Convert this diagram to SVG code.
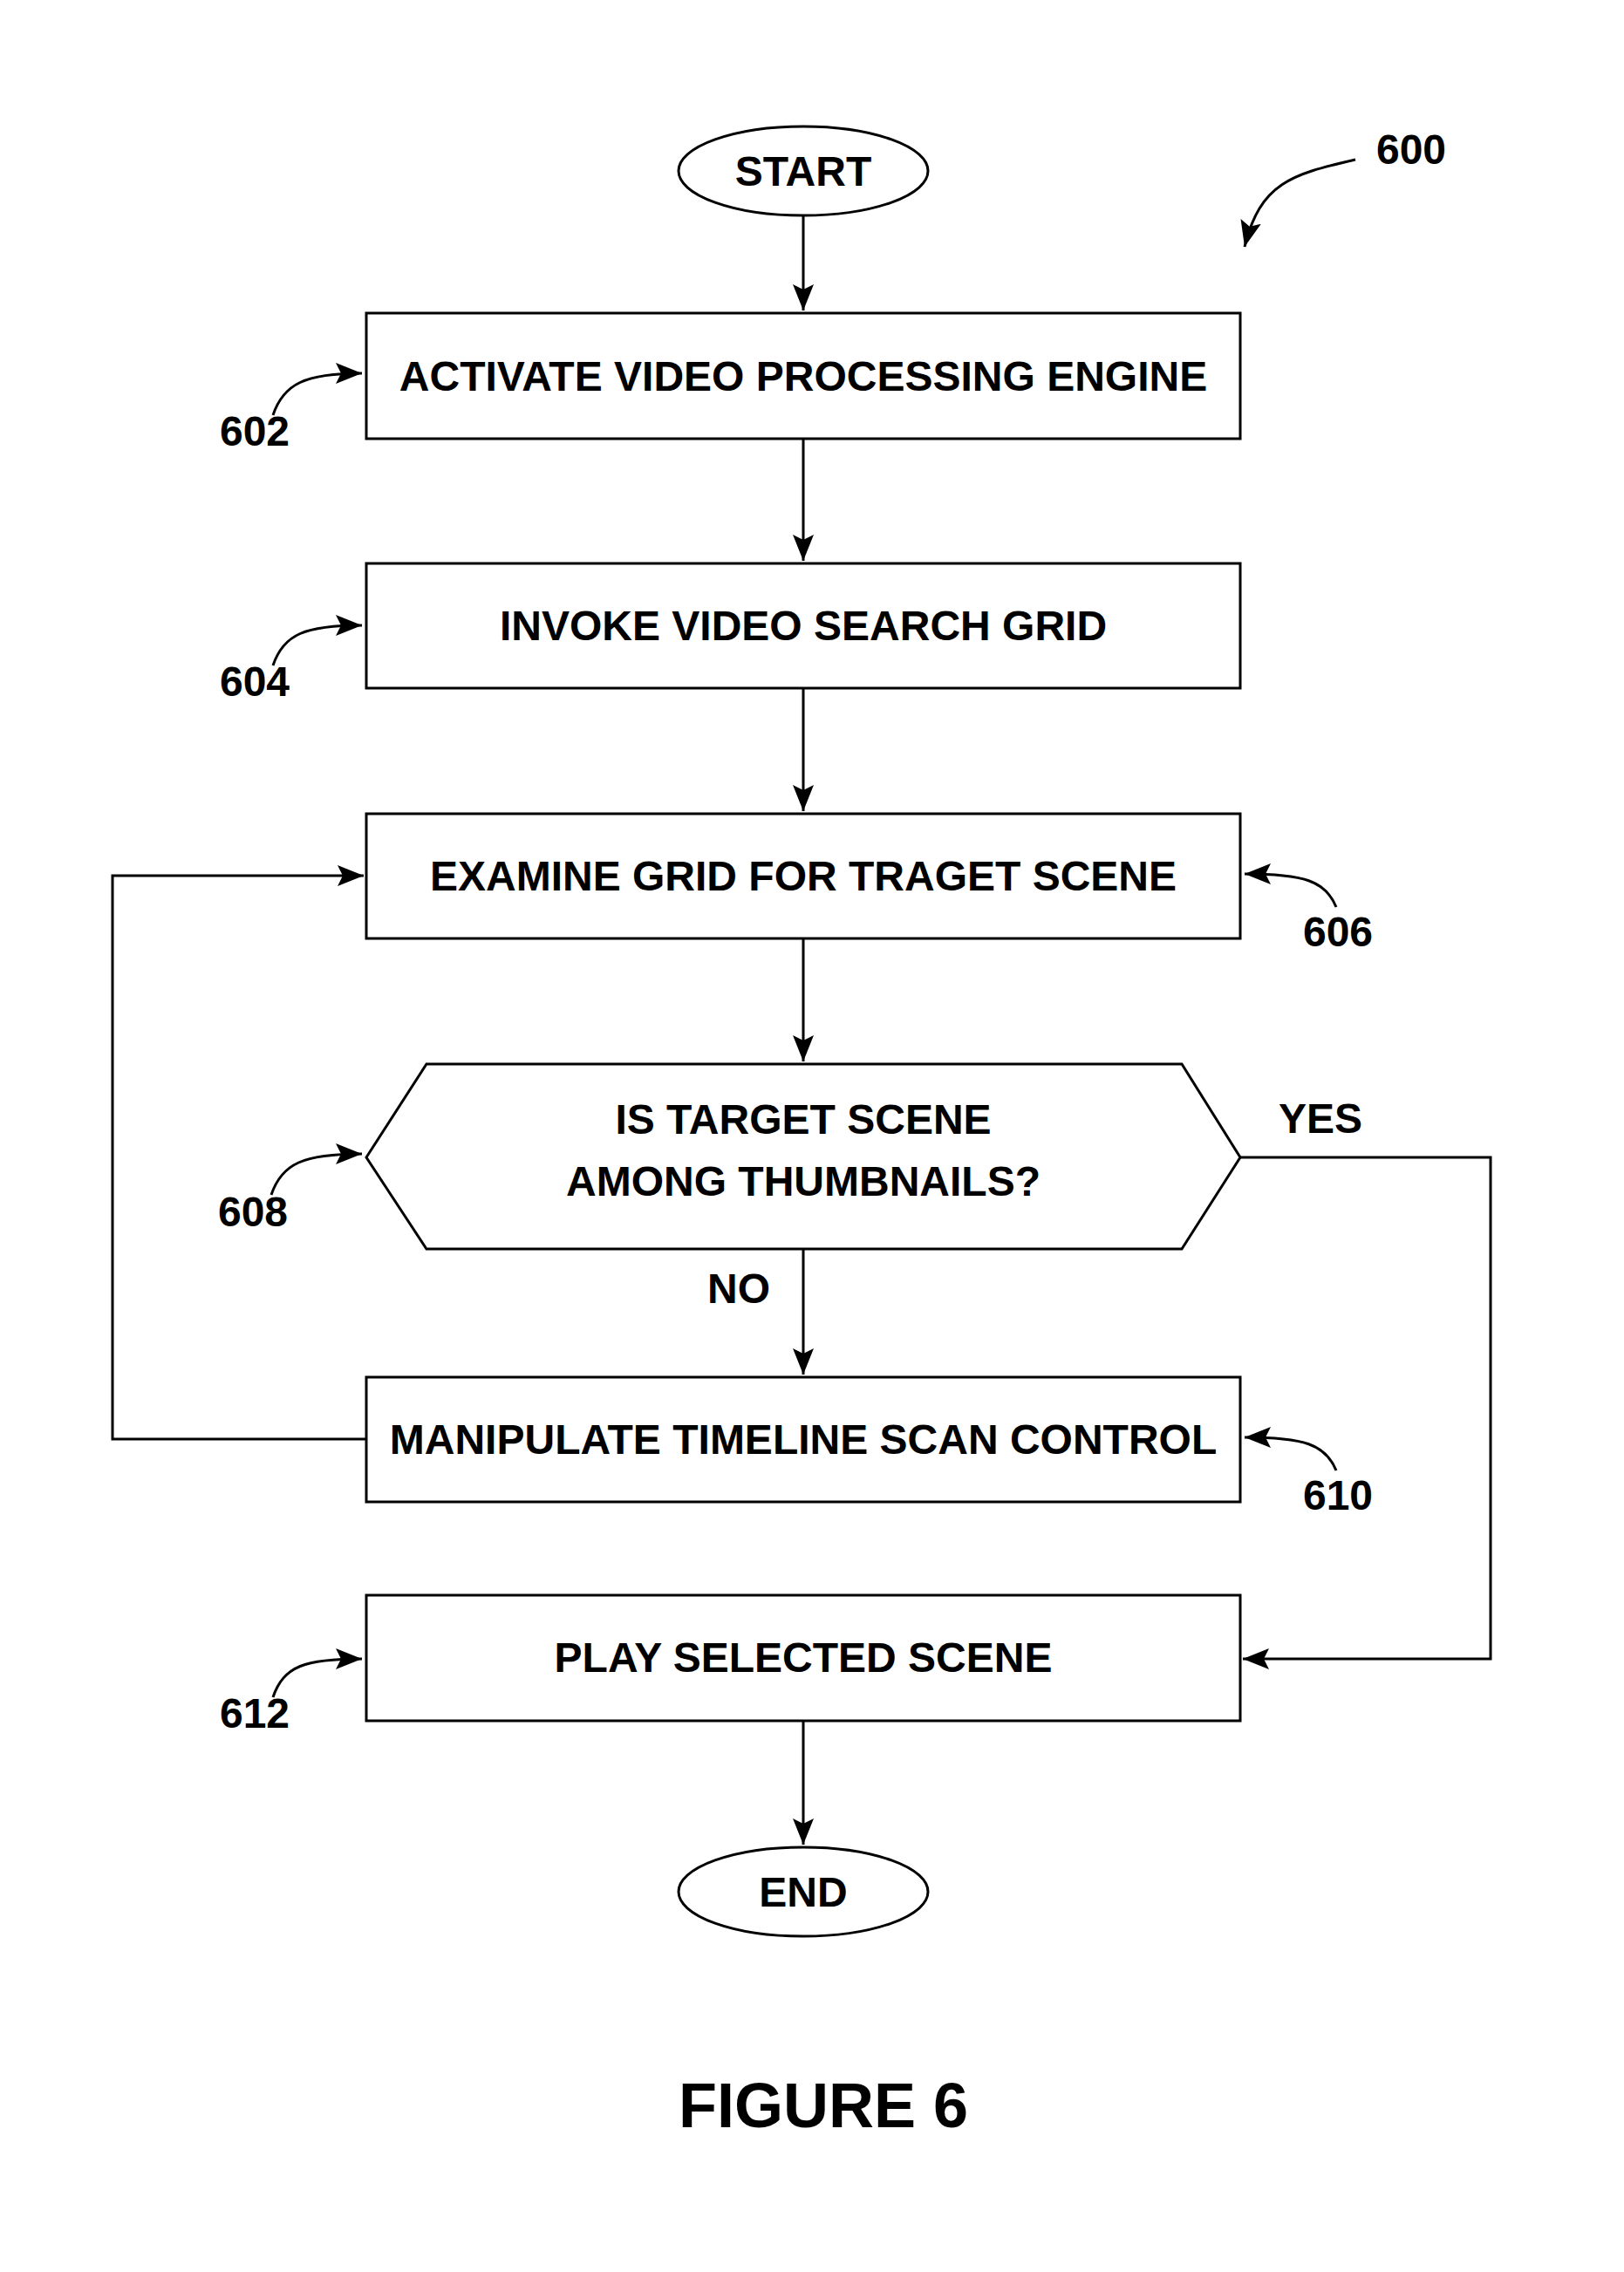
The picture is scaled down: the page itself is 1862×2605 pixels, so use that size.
<svg xmlns="http://www.w3.org/2000/svg" width="1862" height="2605" viewBox="0 0 1862 2605">
<style>
.s{fill:#fff;stroke:#000;stroke-width:3}
.t{font-family:"Liberation Sans",Arial,sans-serif;font-weight:bold;font-size:48px;text-anchor:middle;dominant-baseline:central}
.l{fill:none;stroke:#000;stroke-width:3}
</style>
<defs>
<marker id="b" viewBox="0 0 30 24" refX="30" refY="12" markerWidth="30" markerHeight="24" markerUnits="userSpaceOnUse" orient="auto"><path d="M0,0 L30,12 L0,24 L6,12 Z"/></marker></defs>
<rect width="1862" height="2605" fill="#fff"/>
<g id="start"><ellipse class="s" cx="921" cy="196" rx="143" ry="51"/><text class="t" x="921" y="196">START</text></g>
<g id="n602"><rect class="s" x="420" y="359" width="1002" height="144"/><text class="t" x="921" y="431">ACTIVATE VIDEO PROCESSING ENGINE</text></g>
<g id="n604"><rect class="s" x="420" y="646" width="1002" height="143"/><text class="t" x="921" y="717">INVOKE VIDEO SEARCH GRID</text></g>
<g id="n606"><rect class="s" x="420" y="933" width="1002" height="143"/><text class="t" x="921" y="1004">EXAMINE GRID FOR TRAGET SCENE</text></g>
<g id="n608"><polygon class="s" points="420,1327 489,1220 1355,1220 1422,1327 1355,1432 489,1432"/><text class="t" x="921" y="1283">IS TARGET SCENE</text><text class="t" x="921" y="1354">AMONG THUMBNAILS?</text></g>
<g id="n610"><rect class="s" x="420" y="1579" width="1002" height="143"/><text class="t" x="921" y="1650">MANIPULATE TIMELINE SCAN CONTROL</text></g>
<g id="n612"><rect class="s" x="420" y="1829" width="1002" height="144"/><text class="t" x="921" y="1900">PLAY SELECTED SCENE</text></g>
<g id="end"><ellipse class="s" cx="921" cy="2169" rx="143" ry="51"/><text class="t" x="921" y="2169">END</text></g>
<g id="connectors">
<path class="l" d="M921,247 V356" marker-end="url(#b)"/>
<path class="l" d="M921,503 V643" marker-end="url(#b)"/>
<path class="l" d="M921,789 V930" marker-end="url(#b)"/>
<path class="l" d="M921,1076 V1217" marker-end="url(#b)"/>
<path class="l" d="M921,1432 V1576" marker-end="url(#b)"/>
<path class="l" d="M420,1650 H129 V1004 H417" marker-end="url(#b)"/>
<path class="l" d="M1422,1327 H1709 V1902 H1425" marker-end="url(#b)"/>
<path class="l" d="M921,1973 V2115" marker-end="url(#b)"/>
</g>
<g id="labels">
<text class="t" x="1514" y="1282">YES</text>
<text class="t" x="847" y="1477">NO</text>
<path class="l" d="M313,476 C325,440 350,428 415,428" marker-end="url(#b)"/><text class="t" x="292" y="494">602</text>
<path class="l" d="M313,763 C325,727 350,717 415,717" marker-end="url(#b)"/><text class="t" x="292" y="781">604</text>
<path class="l" d="M1532,1040 C1520,1010 1495,1002 1427,1002" marker-end="url(#b)"/><text class="t" x="1534" y="1068">606</text>
<path class="l" d="M311,1370 C323,1334 348,1323 415,1323" marker-end="url(#b)"/><text class="t" x="290" y="1389">608</text>
<path class="l" d="M1532,1686 C1520,1656 1495,1648 1427,1648" marker-end="url(#b)"/><text class="t" x="1534" y="1714">610</text>
<path class="l" d="M313,1946 C325,1910 350,1902 415,1902" marker-end="url(#b)"/><text class="t" x="292" y="1964">612</text>
<path class="l" d="M1554,183 C1480,200 1445,210 1427,283" marker-end="url(#b)"/><text class="t" x="1618" y="171">600</text>
<text class="t" x="944" y="2414" style="font-size:72px">FIGURE 6</text>
</g>
</svg>
